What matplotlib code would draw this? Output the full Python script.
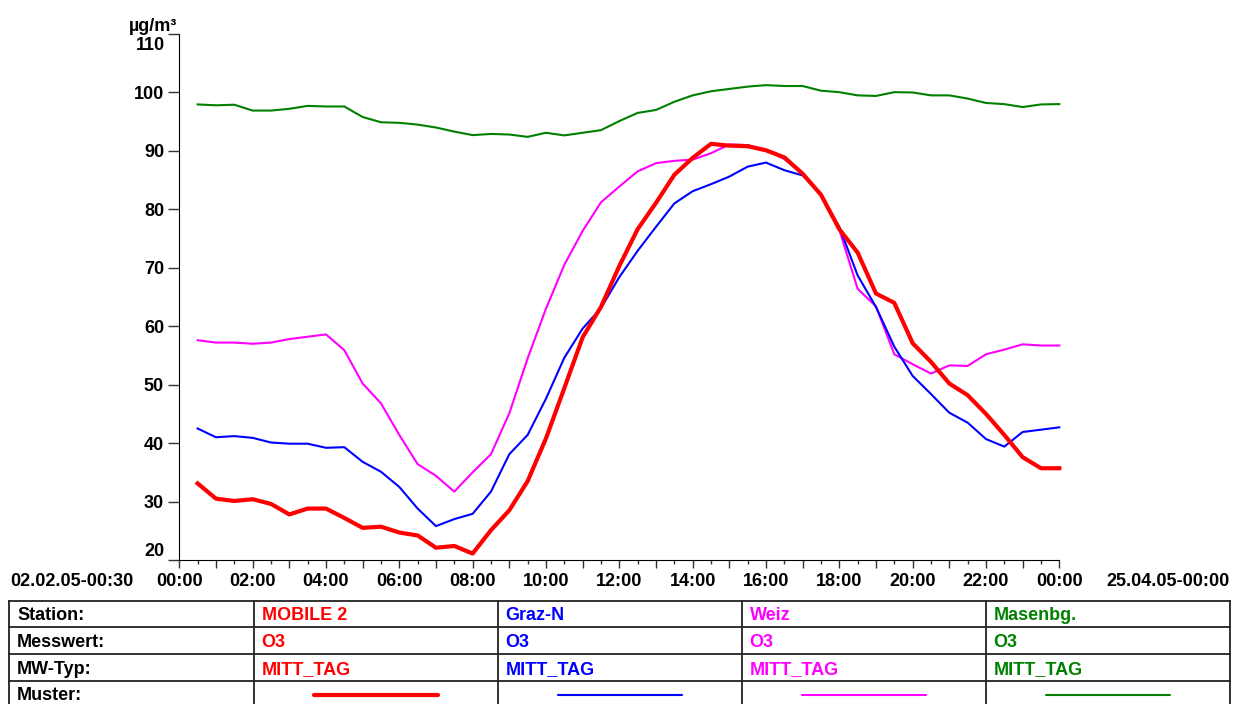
import matplotlib
matplotlib.use('Agg')
import matplotlib.pyplot as plt
import numpy as np

plt.rcParams['font.family'] = ['Liberation Sans', 'DejaVu Sans']
plt.rcParams['font.weight'] = 'bold'
plt.rcParams['font.size'] = 13

# half-hour means, 00:30 .. 24:00
hours = np.arange(1, 49) * 0.5

mobile2 = [33.1, 30.5, 30.1, 30.4, 29.6, 27.8, 28.8, 28.8, 27.2, 25.5, 25.7, 24.7, 24.2, 22.1, 22.4, 21.1,
           25.1, 28.5, 33.5, 40.8, 49.4, 58.1, 63.3, 70.3, 76.6, 81.1, 85.9, 88.8, 91.2, 90.9, 90.8, 90.1,
           88.9, 86.1, 82.5, 76.6, 72.6, 65.6, 64.0, 57.1, 53.9, 50.2, 48.2, 45.0, 41.4, 37.6, 35.7, 35.7]
graz_n = [42.5, 41.0, 41.2, 40.9, 40.1, 39.9, 39.9, 39.2, 39.3, 36.8, 35.1, 32.5, 28.8, 25.8, 27.0, 27.9,
          31.7, 38.1, 41.4, 47.6, 54.6, 59.6, 63.1, 68.4, 72.9, 77.0, 81.0, 83.1, 84.3, 85.6, 87.3, 88.0,
          86.7, 85.8, 82.5, 77.0, 68.7, 63.3, 56.5, 51.5, 48.4, 45.2, 43.5, 40.7, 39.4, 41.9, 42.3, 42.7]
weiz = [57.6, 57.2, 57.2, 57.0, 57.2, 57.8, 58.2, 58.6, 55.9, 50.2, 46.8, 41.4, 36.4, 34.4, 31.7, 35.0,
        38.1, 45.1, 54.5, 63.0, 70.5, 76.3, 81.2, 83.9, 86.5, 87.9, 88.3, 88.5, 89.6, 91.1, 91.0, 90.2,
        88.6, 86.0, 82.5, 76.5, 66.4, 63.4, 55.2, 53.5, 51.9, 53.3, 53.2, 55.2, 56.0, 56.9, 56.7, 56.7]
masenbg = [97.95, 97.8, 97.9, 96.9, 96.9, 97.2, 97.7, 97.6, 97.6, 95.8, 94.9, 94.8, 94.5, 94.0, 93.3, 92.7,
           92.9, 92.8, 92.4, 93.1, 92.65, 93.1, 93.55, 95.1, 96.5, 97.0, 98.4, 99.5, 100.2, 100.6, 101.0, 101.25,
           101.1, 101.1, 100.3, 100.05, 99.5, 99.4, 100.05, 100.0, 99.5, 99.5, 98.95, 98.2, 98.0, 97.5, 97.95, 98.0]

x_labels = ['00:00', '', '02:00', '', '04:00', '', '06:00', '', '08:00', '', '10:00', '', '12:00',
            '', '14:00', '', '16:00', '', '18:00', '', '20:00', '', '22:00', '', '00:00']
y_ticks = [20, 30, 40, 50, 60, 70, 80, 90, 100, 110]
y_labels = ['20', '30', '40', '50', '60', '70', '80', '90', '100', '']  # 110 drawn lower, see below

stations = ['MOBILE 2', 'Graz-N', 'Weiz', 'Masenbg.']
messwert = ['O3', 'O3', 'O3', 'O3']
mw_typ = ['MITT_TAG', 'MITT_TAG', 'MITT_TAG', 'MITT_TAG']
row_names = ['Station:', 'Messwert:', 'MW-Typ:', 'Muster:']
colors = ['#ff0000', '#0000ff', '#ff00ff', '#008000']
widths = [3.0, 1.5, 1.5, 1.5]

W, H = 1235, 704
fig = plt.figure(figsize=(W / 100, H / 100), dpi=100)
ax = fig.add_axes([179.3 / W, (H - 560) / H, 880 / W, 526 / H])

series = [mobile2, graz_n, weiz, masenbg]
for i in [3, 2, 1, 0]:
    ax.plot(hours, series[i], color=colors[i], linewidth=widths[i], clip_on=False)

ax.set_xlim(0, 24)
ax.set_ylim(20, 110)
ax.set_xticks(np.arange(0, 25), x_labels)
ax.set_xticks(np.arange(0.5, 24, 1), minor=True)
ax.set_yticks(y_ticks, y_labels)
ax.tick_params(axis='x', which='major', length=6, width=1, pad=3.5, color='#333333')
ax.tick_params(axis='x', which='minor', length=3, width=1, color='#333333')
ax.tick_params(axis='y', length=8, width=1, pad=3, color='#333333')
for s in ['top', 'right']:
    ax.spines[s].set_visible(False)
ax.get_yticklabels()[0].set_verticalalignment('bottom')

# overlay in pixel coordinates for the labels and the table
ov = fig.add_axes([0, 0, 1, 1])
ov.set_xlim(0, W)
ov.set_ylim(H, 0)
ov.axis('off')
ov.patch.set_visible(False)

ov.text(165, 45, '110', ha='right', va='center')
ov.text(177, 31, 'µg/m³', ha='right', va='baseline')
ov.text(10, 586, '02.02.05-00:30', ha='left', va='baseline')
ov.text(1230, 586, '25.04.05-00:00', ha='right', va='baseline')

col_edges = [9, 253.7, 497.7, 741.7, 985.7, 1229.7]
row_edges = [600.7, 627.3, 654.3, 681, 707.7]
for y in row_edges:
    ov.plot([col_edges[0], col_edges[-1]], [y, y], color='#222222', lw=1.3, clip_on=False)
for x in col_edges:
    ov.plot([x, x], [row_edges[0], row_edges[-1]], color='#222222', lw=1.3, clip_on=False)

for r, name in enumerate(row_names):
    yc = (row_edges[r] + row_edges[r + 1]) / 2 + 1.5
    ov.text(col_edges[0] + 8, yc, name, ha='left', va='center', color='black')

for c in range(4):
    x0 = col_edges[c + 1] + 8
    for r, vals in enumerate([stations, messwert, mw_typ]):
        yc = (row_edges[r] + row_edges[r + 1]) / 2 + 1.5
        ov.text(x0, yc, vals[c], ha='left', va='center', color=colors[c])
    cx = (col_edges[c + 1] + col_edges[c + 2]) / 2
    ov.plot([cx - 62, cx + 62], [695, 695], color=colors[c], lw=widths[c], solid_capstyle='round')

fig.savefig('out.png', dpi=100)
